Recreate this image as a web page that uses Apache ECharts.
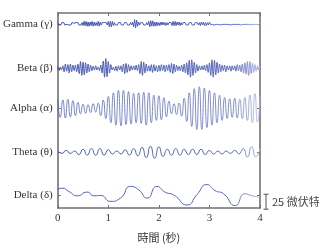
<!DOCTYPE html>
<html><head><meta charset="utf-8">
<script src="https://cdn.jsdelivr.net/npm/echarts@6/dist/echarts.min.js"></script>
<style>html,body{margin:0;padding:0;background:#fff}#c{width:320px;height:249px}</style>
</head><body><div id="c"></div>
<script>
// ---- data (µV) ----
const bandNames = ['Gamma (γ)', 'Beta (β)', 'Alpha (α)', 'Theta (θ)', 'Delta (δ)'];
const bandBaselines = [307, 233, 166, 93, 22];   // µV offset of each trace
const xTickLabels = ['0', '1', '2', '3', '4'];
const xAxisName = '時間 (秒)';
const scaleBarLabel = '25 微伏特';
const scaleBarMicrovolts = 25;
const scaleBarBase = -2;

const gammaStep = 0.02;
const gamma = [
  2,-2,1,-2,2,-1,2,-2,1,-1,2,-2,1,-2,2,-1,1,-2,2,-1,2,-2,1,-2,2,
  -3,4,-3,4,-4,3,-4,3,-3,4,-4,3,-3,2,-3,4,-4,3,-2,2,
  -1,2,-1,2,-2,
  4,-5,4,-5,4,-3,2,
  -2,1,-2,2,-1,2,-2,1,-2,2,-1,2,-2,1,-2,2,-2,3,
  -5,7,-7,6,-4,3,
  -2,2,-1,2,-2,1,-2,2,-2,
  4,-5,5,-4,5,-4,3,-4,3,
  -3,2,-3,3,-2,3,-2,2,-3,2,-2,2,-1,2,
  -3,4,-3,4,-3,3,-2,3,-3,2,-2,2,
  -1,2,-2,1,-2,2,-1,2,-2,1,-2,2,-1,2,-2,2,
  -3,3,-2,3,-3,2,-3,2,-2,3,
  -1,2,-1,1,-2,1,-1,2,-1,1,
  -2,1,-1,2,-1,1,-1,2,-1,1,
  -2,1,-1,2,-1,1,-1,2,-1,1,
  -2,1,-1,2,-1,1,-1,2,-1,1,
  -2,1,-1,2,-1,1,-1,2,-1,1
];

const betaStep = 0.025;
const beta = [
  3,-4,2,-3,4,
  -6,7,-5,6,-8,7,-6,5,-4,5,-6,7,
  -9,11,-12,10,-11,9,-8,7,-6,5,-4,3,
  -3,4,-3,2,-4,5,
  -8,12,-15,16,-14,11,-8,6,
  -3,2,-4,3,-5,4,-3,4,
  -6,7,-9,8,-7,6,-5,4,
  -3,4,-3,5,-4,6,
  -9,11,-12,10,-8,7,-5,4,
  -5,6,-7,6,-5,4,-6,5,
  -5,6,-4,5,-6,5,-4,6,
  -7,8,-9,7,-6,5,-4,3,-4,
  5,-6,7,-8,9,-11,
  13,-15,14,-12,10,-8,6,-5,
  4,-3,4,-3,5,-4,6,-7,
  9,-12,14,-15,13,-11,10,-8,7,
  -6,5,-4,5,-6,4,-3,4,-5,4,
  -3,4,-5,6,-4,5,-6,7,-8,9,
  -10,11,-12,11,-9,8,-7,6,-5,
  4,-3,3
];

const alphaStep = 0.05;
const alpha = [
  15,-15,14,-16,15,-14,13,-12,10,-9,
  7,-8,6,-7,8,-6,9,
  -12,14,-17,20,
  -24,26,-28,30,-29,30,-27,28,-26,25,
  -24,26,-25,27,-28,26,-24,22,-20,21,
  -19,18,-14,12,-9,8,-10,
  9,-13,17,-22,26,-30,
  33,-35,36,-35,34,-32,30,-28,26,-24,22,
  -20,18,-17,16,-15,17,-16,15,
  -17,18,-20,22,-24,25,-23,20
];

const thetaStep = 1 / 12;
const theta = [
  2,-2,3,-2,2,
  -4,5,-5,6,-5,6,-5,4,
  -3,2,-3,
  4,-5,6,-6,8,-9,10,-10,9,-7,
  5,-5,6,-5,5,-4,5,-4,5,-4,
  3,-3,2,-3,2,-2,3,-3,
  6,-8,9,-8,6
];

const deltaT = [0,0.09,0.22,0.39,0.58,0.72,0.85,1.04,1.24,1.44,1.60,1.77,1.96,2.13,2.29,2.56,2.75,2.95,3.11,3.28,3.51,3.70,3.84,4.0];
const delta  = [9.5,11,5.5,-1.7,4.5,-1.7,-1,-11,-5.5,14,8.3,-5.5,14,4,0,-17,0,17,7,1.7,-18,1.7,-1.7,-4];

// ---- build ----
function fade(c0, c1) {
  return new echarts.graphic.LinearGradient(0, 0, 1, 0, [
    { offset: 0, color: c0 },
    { offset: 0.86, color: c1 },
    { offset: 1, color: '#b8c1e8' }
  ]);
}

function uniformSeries(values, step, base) {
  return values.map((v, i) => [i * step, base + v]);
}
const traces = [
  { data: uniformSeries(gamma, gammaStep, bandBaselines[0]), smooth: false, w: 1, c: fade('#4152ae', '#5363b8') },
  { data: uniformSeries(beta, betaStep, bandBaselines[1]), smooth: 0.3, w: 1, c: fade('#4152ae', '#5363b8') },
  { data: uniformSeries(alpha, alphaStep, bandBaselines[2]), smooth: 0.6, w: 0.8, c: fade('#5566bb', '#6474c0') },
  { data: uniformSeries(theta, thetaStep, bandBaselines[3]), smooth: 0.6, w: 1, c: fade('#4a5bb4', '#5a6abc') },
  { data: deltaT.map((t, i) => [t, bandBaselines[4] + delta[i]]), smooth: 0.6, w: 1, c: fade('#4a5bb4', '#5a6abc') }
];

const frame = { show: true, onZero: false, lineStyle: { color: '#707070', width: 1.6 } };
const serif = '"Liberation Serif", "DejaVu Serif", serif';
const tick = { show: true, inside: true, length: 3, lineStyle: { color: '#707070' } };

const chart = echarts.init(document.getElementById('c'), null, { renderer: 'canvas' });
chart.setOption({
  animation: false,
  backgroundColor: '#fff',
  grid: { left: 57, right: 60, top: 13, bottom: 41 },
  xAxis: [
    {
      type: 'value', min: 0, max: 4, interval: 1, position: 'bottom',
      axisLine: frame, axisTick: tick,
      axisLabel: { color: '#333', fontSize: 11, fontFamily: serif, margin: 5,
        formatter: v => xTickLabels[Math.round(v)] },
      splitLine: { show: false },
      name: xAxisName, nameLocation: 'middle', nameGap: 24,
      nameTextStyle: { color: '#333', fontSize: 11, fontFamily: '"Noto Sans CJK TC", sans-serif' }
    },
    {
      type: 'value', min: 0, max: 4, interval: 1, position: 'top',
      axisLine: frame, axisTick: tick,
      axisLabel: { show: false }, splitLine: { show: false }
    }
  ],
  yAxis: [
    {
      type: 'value', min: 0, max: 325, position: 'left',
      axisLine: frame,
      axisTick: Object.assign({}, tick, { customValues: bandBaselines }),
      axisLabel: { show: true, customValues: bandBaselines, color: '#333', fontSize: 11, fontFamily: serif, margin: 5,
        formatter: v => bandNames[bandBaselines.indexOf(v)] },
      splitLine: { show: false }
    },
    {
      type: 'value', min: 0, max: 325, position: 'right',
      axisLine: frame,
      axisTick: Object.assign({}, tick, { customValues: bandBaselines }),
      axisLabel: { show: false }, splitLine: { show: false }
    }
  ],
  series: traces.map(t => ({
    type: 'line', data: t.data, smooth: t.smooth, showSymbol: false, symbol: 'none',
    lineStyle: { color: t.c, width: t.w }, silent: true
  })).concat([{
    type: 'custom', clip: false, silent: true,
    data: [[4, scaleBarBase, scaleBarBase + scaleBarMicrovolts]],
    renderItem: (params, api) => {
      const b = api.coord([api.value(0), api.value(1)]);
      const t = api.coord([api.value(0), api.value(2)]);
      const x = b[0] + 6;
      const st = { stroke: '#555', lineWidth: 1 };
      return { type: 'group', children: [
        { type: 'line', shape: { x1: x, y1: t[1], x2: x, y2: b[1] }, style: st },
        { type: 'line', shape: { x1: x - 2.5, y1: t[1], x2: x + 2.5, y2: t[1] }, style: st },
        { type: 'line', shape: { x1: x - 2.5, y1: b[1], x2: x + 2.5, y2: b[1] }, style: st },
        { type: 'text', x: x + 6, y: (t[1] + b[1]) / 2, style: { text: scaleBarLabel, fill: '#444', fontSize: 11,
          fontFamily: '"Noto Sans CJK TC", sans-serif', verticalAlign: 'middle', align: 'left' } }
      ] };
    }
  }])
});
</script></body></html>
